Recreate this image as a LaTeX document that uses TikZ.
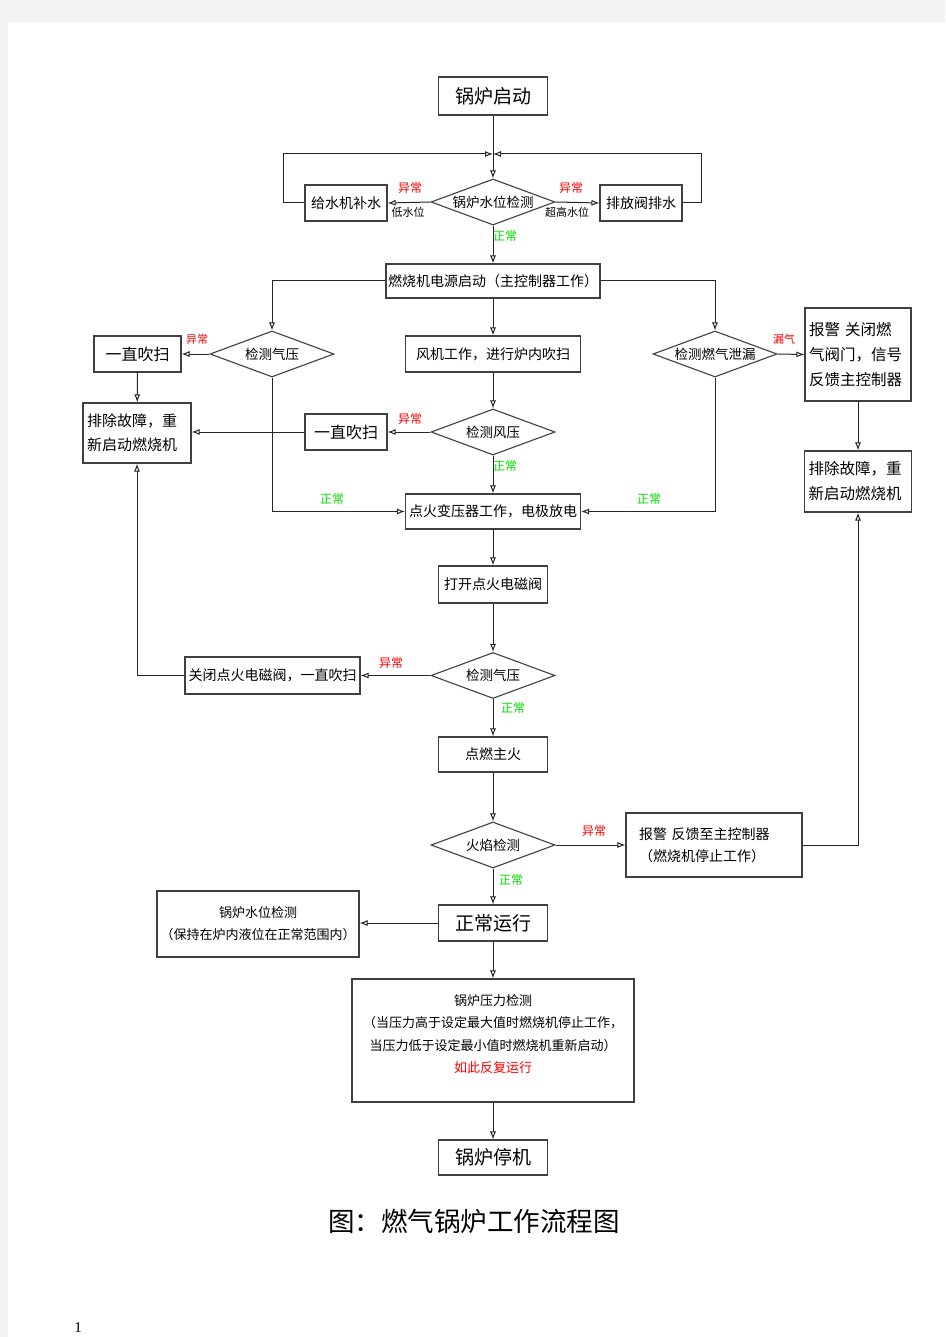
\documentclass[tikz,border=0pt]{standalone}
\usepackage{fontspec}
\setmainfont{Noto Sans CJK SC}
\newfontfamily\pnumfont{Liberation Serif}
\usetikzlibrary{shapes.geometric,arrows.meta}
\definecolor{pagegray}{HTML}{F3F3F3}
\definecolor{lblgreen}{HTML}{00E000}
\definecolor{lblred}{HTML}{FF0000}
\begin{document}
\begin{tikzpicture}[x=1pt,y=-1pt,
  box/.style={draw=black!75,line width=1.1pt,fill=white,inner sep=2pt,align=center,
    font=\fontsize{14}{24}\selectfont},
  bigbox/.style={box,font=\fontsize{19}{22}\selectfont},
  dia/.style={draw=black!75,line width=1.1pt,diamond,aspect=2.7,inner sep=0pt,
    minimum width=124pt,minimum height=46pt,font=\fontsize{13.5}{16}\selectfont},
  arr/.style={draw=black!85,line width=1pt,-{Latex[open,length=8pt,width=6pt]}},
  rlbl/.style={text=lblred,font=\fontsize{12}{12}\selectfont,inner sep=0pt},
  srlbl/.style={text=lblred,font=\fontsize{11}{11}\selectfont,inner sep=0pt},
  glbl/.style={text=lblgreen,font=\fontsize{12}{12}\selectfont,inner sep=0pt},
  klbl/.style={text=black,font=\fontsize{11}{11}\selectfont,inner sep=0pt}]

% page background
\path[use as bounding box,fill=pagegray] (0,0) rectangle (945,1337);
\fill[white] (8,22) rectangle (945,1337);

% nodes
\node[bigbox,minimum width=109pt,minimum height=38pt] (start) at (493,96) {锅炉启动};
\coordinate (j1) at (493,154);
\node[dia] (d1) at (493,202) {锅炉水位检测};
\node[box,minimum width=82pt,minimum height=36pt] (feed) at (346,203) {给水机补水};
\node[box,minimum width=82pt,minimum height=36pt] (drain) at (641,203) {排放阀排水};
\node[box,minimum width=209pt,minimum height=34pt] (power) at (493,281) {燃烧机电源启动（主控制器工作）};

\node[dia] (gp1) at (272,354) {检测气压};
\node[box,minimum width=87pt,minimum height=36pt,font=\fontsize{16}{20}\selectfont] (purge1) at (137.5,354) {一直吹扫};
\node[box,minimum width=175pt,minimum height=36pt] (fan) at (493,354) {风机工作，进行炉内吹扫};
\node[dia] (leak) at (715,354) {检测燃气泄漏};
\node[box,minimum width=106pt,minimum height=93pt,text width=98pt,align=left,
  font=\fontsize{15.5}{25}\selectfont] (alarm1) at (858,354.5) {报警 关闭燃\\气阀门，信号\\反馈主控制器};

\node[box,minimum width=108pt,minimum height=60pt,text width=100pt,align=left,
  font=\fontsize{15}{24}\selectfont] (fix1) at (137,433) {排除故障，重\\新启动燃烧机};
\node[box,minimum width=82pt,minimum height=36pt,font=\fontsize{16}{20}\selectfont] (purge2) at (346,432) {一直吹扫};
\node[dia] (wp) at (493,432) {检测风压};
\node[box,minimum width=107pt,minimum height=61pt,text width=99pt,align=left,
  font=\fontsize{15.5}{25}\selectfont] (fix2) at (858,481.5) {排除故障，重\\新启动燃烧机};

\node[box,minimum width=175pt,minimum height=35pt] (ign) at (493,511.5) {点火变压器工作，电极放电};
\node[box,minimum width=109pt,minimum height=37pt] (openv) at (493,584.5) {打开点火电磁阀};
\node[dia] (gp2) at (493,675.5) {检测气压};
\node[box,minimum width=175pt,minimum height=37pt] (closev) at (272.5,675.5) {关闭点火电磁阀，一直吹扫};
\node[box,minimum width=109pt,minimum height=35pt] (fire) at (493,754.5) {点燃主火};
\node[dia] (flame) at (493,845) {火焰检测};
\node[box,minimum width=176pt,minimum height=64pt,text width=150pt,align=left,
  font=\fontsize{14}{22}\selectfont] (alarm2) at (714,845) {报警 反馈至主控制器\\（燃烧机停止工作）};

\node[bigbox,minimum width=109pt,minimum height=36pt] (run) at (493,923) {正常运行};
\node[box,minimum width=202pt,minimum height=66pt,font=\fontsize{13}{22}\selectfont] (wl) at (258,924) {锅炉水位检测\\（保持在炉内液位在正常范围内）};
\node[box,minimum width=282pt,minimum height=123pt,font=\fontsize{13}{22.5}\selectfont] (pres) at (493,1040.5)
  {锅炉压力检测\\（当压力高于设定最大值时燃烧机停止工作，\\当压力低于设定最小值时燃烧机重新启动）\\\textcolor{lblred}{如此反复运行}\\[-8pt]\mbox{}};
\node[bigbox,minimum width=109pt,minimum height=35pt] (stop) at (493,1157.5) {锅炉停机};

% connectors
\draw[arr] (start) -- (d1);
\draw[arr] (feed.west) -- ++(-21,0) |- (j1);
\draw[arr] (drain.east) -- ++(19,0) |- (j1);
\draw[arr] (d1.west) -- (feed.east);
\draw[arr] (d1.east) -- (drain.west);
\draw[arr] (d1) -- (power);

\draw[arr] (power.west) -| (gp1.north);
\draw[arr] (power.east) -| (leak.north);
\draw[arr] (power) -- (fan);
\draw[arr] (gp1.west) -- (purge1.east);
\draw[arr] (purge1) -- (fix1);
\draw[arr] (fan) -- (wp);
\draw[arr] (wp.west) -- (purge2.east);
\draw[arr] (purge2.west) -- (purge2.west -| fix1.east);
\draw[arr] (wp) -- (ign);
\draw[arr] (gp1.south) |- (ign.west);
\draw[arr] (leak.south) |- (ign.east);
\draw[arr] (leak.east) -- (alarm1.west);
\draw[arr] (alarm1) -- (fix2);

\draw[arr] (ign) -- (openv);
\draw[arr] (openv) -- (gp2);
\draw[arr] (gp2.west) -- (closev.east);
\draw[arr] (closev.west) -| (fix1.south);
\draw[arr] (gp2) -- (fire);
\draw[arr] (fire) -- (flame);
\draw[arr] (flame.east) -- (alarm2.west);
\draw[arr] (alarm2.east) -| (fix2.south);
\draw[arr] (flame) -- (run);
\draw[arr] (run.west) -- (run.west -| wl.east);
\draw[arr] (run) -- (pres);
\draw[arr] (pres) -- (stop);

% labels
\node[rlbl] (l1) at (410,188) {异常};
\node[klbl] (l2) at (408,212) {低水位};
\node[rlbl] (l3) at (571,188) {异常};
\node[klbl] (l4) at (567,212) {超高水位};
\node[glbl] (l5) at (505,236) {正常};
\node[srlbl] (l6) at (197,339) {异常};
\node[rlbl] (l7) at (410,419) {异常};
\node[glbl] (l8) at (505,466) {正常};
\node[glbl] (l9) at (332,499) {正常};
\node[glbl] (l10) at (649,499) {正常};
\node[srlbl] (l11) at (784,339) {漏气};
\node[rlbl] (l12) at (391,663) {异常};
\node[glbl] (l13) at (513,708) {正常};
\node[rlbl] (l14) at (594,831) {异常};
\node[glbl] (l15) at (511,880) {正常};

% title and page number
\node[font=\fontsize{26.5}{28}\selectfont,inner sep=0pt] (title) at (474,1221) {图：燃气锅炉工作流程图};
\node[font=\pnumfont\fontsize{15}{15}\selectfont,inner sep=0pt] (pnum) at (78,1328) {1};
\end{tikzpicture}
\end{document}
